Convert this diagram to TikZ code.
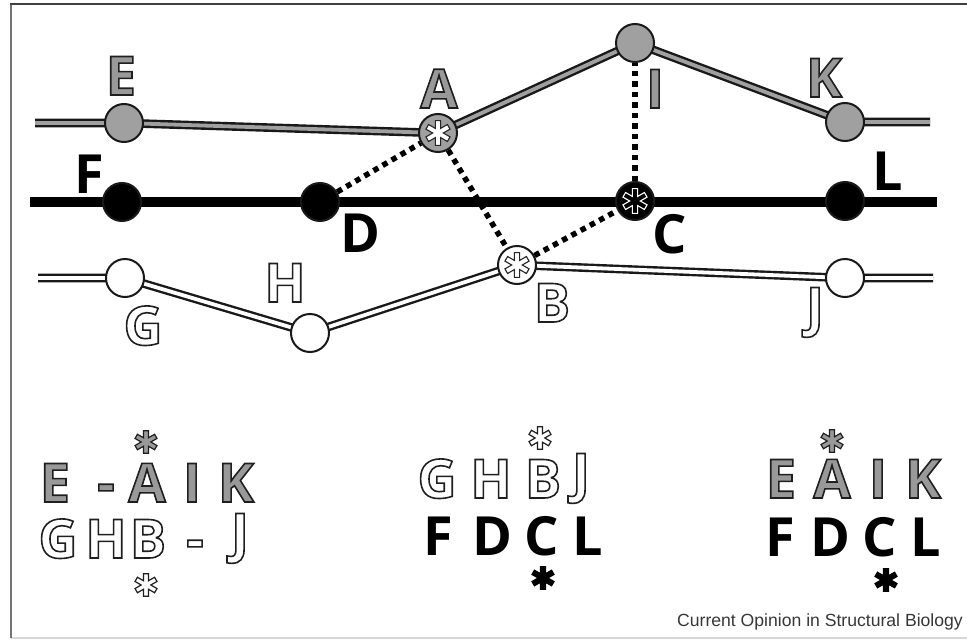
\documentclass[tikz,border=0pt]{standalone}
\usepackage{fontspec}
\newfontfamily\lblfont{Open Sans}
\newfontfamily\capfont{Liberation Sans}
\newfontfamily\symfont{DejaVu Sans}
\definecolor{ballgray}{RGB}{160,160,160}
\definecolor{ink}{RGB}{25,25,25}
\definecolor{framegray}{RGB}{115,115,115}
\definecolor{framelight}{RGB}{215,215,215}
\definecolor{captiongray}{RGB}{55,55,55}

% glyphs filled with one gray level and stroked with another
\newcommand\outlinetext[4]{\special{pdf:literal direct 2 Tr #1 w #2 g #3 G}#4\special{pdf:literal direct 0 Tr 0 g 0 G}}
\newcommand\graylet[1]{\outlinetext{1.6}{0.6}{0.12}{#1}}
\newcommand\whitelet[1]{\outlinetext{1.6}{1}{0.12}{#1}}
\newcommand\astglyph{✱}
\newcommand\ballast[2]{{\symfont\fontsize{34}{34}\selectfont\outlinetext{1.1}{#1}{#2}{\astglyph}}}
\newcommand\markast[2]{{\symfont\fontsize{31}{31}\selectfont\outlinetext{1.2}{#1}{#2}{\astglyph}}}

\pgfdeclarelayer{background}
\pgfsetlayers{background,main}

\tikzset{
  ball/.style={circle, draw=ink, line width=2pt, minimum size=38pt, inner sep=0pt},
  grayball/.style={ball, fill=ballgray},
  blackball/.style={ball, fill=black},
  whiteball/.style={ball, fill=white},
  lbl/.style={anchor=base, inner sep=0pt, font=\lblfont\bfseries\fontsize{54}{60}\selectfont},
  astmark/.style={anchor=center, inner sep=0pt},
  grayline/.style={draw=ink, line width=2.4pt, double=ballgray, double distance=3.8pt, line join=round},
  whiteline/.style={draw=ink, line width=2.4pt, double=white, double distance=3.8pt, line join=round},
  blackline/.style={draw=black, line width=10pt},
  link/.style={draw=black, line width=5.5pt, dash pattern=on 5.5pt off 5pt},
}

\begin{document}
\begin{tikzpicture}[x=1pt, y=-1pt]
\useasboundingbox (0,0) rectangle (967,640);
% open frame: dark top rule, gray left rule, faint bottom rule
\draw[framelight, line width=1.2pt] (11,638) -- (967,638);
\draw[framegray, line width=2.2pt] (11,638) -- (11,4);
\draw[black!75, line width=2pt] (10,4) -- (967,4);

% upper chain (gray)
\node[grayball] (E) at (124,123) {};
\node[grayball] (A) at (438,133) {\ballast{1}{0.15}};
\node[grayball] (I) at (635,43) {};
\node[grayball] (K) at (845,122) {};
\coordinate (ul) at (35,123);
\coordinate (ur) at (930,122);

% middle chain (black)
\node[blackball] (F) at (122,202) {};
\node[blackball] (D) at (320,202) {};
\node[blackball] (C) at (635,201) {\ballast{0}{1}};
\node[blackball] (L) at (845,201) {};
\coordinate (ml) at (30,202);
\coordinate (mr) at (937,202);

% lower chain (white)
\node[whiteball] (G) at (125,278) {};
\node[whiteball] (H) at (310,333) {};
\node[whiteball] (B) at (517,265) {\ballast{1}{0.15}};
\node[whiteball] (J) at (845,278) {};
\coordinate (ll) at (38,278);
\coordinate (lr) at (933,278);

\begin{pgfonlayer}{background}
  \draw[grayline] (ul) -- (E.center) -- (A.center) -- (I.center) -- (K.center) -- (ur);
  \draw[blackline] (ml) -- (mr);
  \draw[whiteline] (ll) -- (G.center) -- (H.center) -- (B.center) -- (J.center) -- (lr);
\end{pgfonlayer}

% cross-links
\draw[link] (D) -- (A);
\draw[link] (A) -- (B);
\draw[link] (B) -- (C);
\draw[link] (C) -- (I);

% chain labels
\node[lbl] (tE) at (121,95) {\graylet{E}};
\node[lbl] (tA) at (439,108) {\graylet{A}};
\node[lbl] (tI) at (655,108) {\graylet{I}};
\node[lbl] (tK) at (824,97) {\graylet{K}};
\node[lbl] (tF) at (89,193) {F};
\node[lbl] (tD) at (360,252) {D};
\node[lbl] (tC) at (670,253) {C};
\node[lbl] (tL) at (888,190) {L};
\node[lbl] (tG) at (143,345) {\whitelet{G}};
\node[lbl] (tH) at (285,302) {\whitelet{H}};
\node[lbl] (tB) at (552,322) {\whitelet{B}};
\node[lbl] (tJ) at (815,326) {\whitelet{J}};

% left alignment
\node[astmark] (s1) at (146,442) {\markast{0.6}{0.12}};
\node[lbl] (a1) at (55,502) {\graylet{E}};
\node[lbl] (a2) at (106,502) {\graylet{-}};
\node[lbl] (a3) at (147,502) {\graylet{A}};
\node[lbl] (a4) at (192,502) {\graylet{I}};
\node[lbl] (a5) at (236,502) {\graylet{K}};
\node[lbl] (b1) at (58,558) {\whitelet{G}};
\node[lbl] (b2) at (106,558) {\whitelet{H}};
\node[lbl] (b3) at (148,558) {\whitelet{B}};
\node[lbl] (b4) at (195,558) {\whitelet{-}};
\node[lbl] (b5) at (240,552) {\whitelet{J}};
\node[astmark] (s2) at (146,585) {\markast{1}{0.12}};

% middle alignment
\node[astmark] (s3) at (540,438) {\markast{1}{0.12}};
\node[lbl] (c1) at (437,498) {\whitelet{G}};
\node[lbl] (c2) at (491,498) {\whitelet{H}};
\node[lbl] (c3) at (543,498) {\whitelet{B}};
\node[lbl] (c4) at (581,492) {\whitelet{J}};
\node[lbl] (d1) at (438,555) {F};
\node[lbl] (d2) at (492,555) {D};
\node[lbl] (d3) at (542,555) {C};
\node[lbl] (d4) at (588,555) {L};
\node[astmark] (s4) at (543,578) {\markast{0}{0}};

% right alignment
\node[astmark] (s5) at (832,441) {\markast{0.6}{0.12}};
\node[lbl] (e1) at (781,498) {\graylet{E}};
\node[lbl] (e2) at (832,498) {\graylet{A}};
\node[lbl] (e3) at (878,498) {\graylet{I}};
\node[lbl] (e4) at (923,498) {\graylet{K}};
\node[lbl] (f1) at (780,556) {F};
\node[lbl] (f2) at (830,556) {D};
\node[lbl] (f3) at (880,556) {C};
\node[lbl] (f4) at (926,556) {L};
\node[astmark] (s6) at (886,580) {\markast{0}{0}};

% credit line
\node[anchor=base east, inner sep=0pt, text=captiongray, font=\capfont\fontsize{17.6}{20}\selectfont] (credit) at (963,626) {Current Opinion in Structural Biology};
\end{tikzpicture}
\end{document}
